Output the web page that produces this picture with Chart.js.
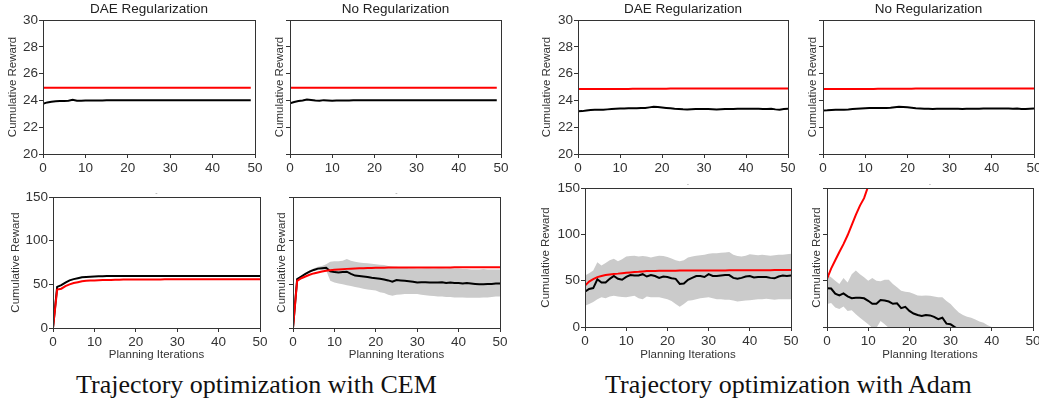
<!DOCTYPE html>
<html>
<head>
<meta charset="utf-8">
<script src="https://cdn.jsdelivr.net/npm/chart.js@4.4.0/dist/chart.umd.min.js"></script>
<style>
  html, body { margin: 0; padding: 0; background: #fff; }
  #page { position: relative; width: 1039px; height: 402px; overflow: hidden; background: #fff; }
  .panel { position: absolute; }
  .caption {
    position: absolute;
    font-family: 'Liberation Serif', 'Times New Roman', serif;
    font-size: 26px;
    line-height: 26px;
    color: #111;
    white-space: nowrap;
  }
</style>
</head>
<body>
<div id="page">
  <div class="caption" style="left:76px; top:372px;">Trajectory optimization with CEM</div>
  <div class="caption" style="left:605px; top:372px;">Trajectory optimization with Adam</div>
</div>
<script>
// CEM, top row (reward per planning iteration, 0..49)
const cemDaeTopBlack = [
  23.75, 23.85, 23.9, 23.94, 23.95, 23.95, 23.98, 24.04, 23.97, 23.98,
  23.99, 24.0, 24.0, 24.0, 24.0, 24.01, 24.01, 24.01, 24.01, 24.01,
  24.01, 24.01, 24.02, 24.02, 24.02, 24.02, 24.02, 24.02, 24.02, 24.02,
  24.02, 24.02, 24.02, 24.02, 24.02, 24.02, 24.02, 24.02, 24.02, 24.02,
  24.02, 24.02, 24.02, 24.02, 24.02, 24.02, 24.02, 24.02, 24.02, 24.02
];
const cemDaeTopRed = [
  24.95, 24.95, 24.95, 24.95, 24.95, 24.95, 24.95, 24.95, 24.95, 24.95,
  24.95, 24.95, 24.95, 24.95, 24.95, 24.95, 24.95, 24.95, 24.95, 24.95,
  24.95, 24.95, 24.95, 24.95, 24.95, 24.95, 24.95, 24.95, 24.95, 24.95,
  24.95, 24.95, 24.95, 24.95, 24.95, 24.95, 24.95, 24.95, 24.95, 24.95,
  24.95, 24.95, 24.95, 24.95, 24.95, 24.95, 24.95, 24.95, 24.95, 24.95
];
const cemNoTopBlack = [
  23.78, 23.88, 23.95, 24.0, 24.07, 24.03, 23.99, 23.98, 24.02, 24.0,
  23.97, 23.99, 24.0, 24.0, 24.0, 24.01, 24.01, 24.01, 24.01, 24.01,
  24.01, 24.01, 24.01, 24.02, 24.02, 24.02, 24.02, 24.02, 24.02, 24.02,
  24.02, 24.02, 24.02, 24.02, 24.02, 24.02, 24.02, 24.02, 24.02, 24.02,
  24.02, 24.02, 24.02, 24.02, 24.02, 24.02, 24.02, 24.02, 24.02, 24.02
];
const cemNoTopRed = [
  24.94, 24.94, 24.94, 24.94, 24.94, 24.94, 24.94, 24.94, 24.94, 24.94,
  24.94, 24.94, 24.94, 24.94, 24.94, 24.94, 24.94, 24.94, 24.94, 24.94,
  24.94, 24.94, 24.94, 24.94, 24.94, 24.94, 24.94, 24.94, 24.94, 24.94,
  24.94, 24.94, 24.94, 24.94, 24.94, 24.94, 24.94, 24.94, 24.94, 24.94,
  24.94, 24.94, 24.94, 24.94, 24.94, 24.94, 24.94, 24.94, 24.94, 24.94
];

// CEM, bottom row (0..50)
const cemDaeBotBlack = [
  0, 47, 49, 52, 54.5, 56, 57, 58, 58.5, 58.8,
  59, 59.2, 59.3, 59.4, 59.5, 59.5, 59.5, 59.5, 59.5, 59.5,
  59.5, 59.5, 59.5, 59.5, 59.5, 59.5, 59.5, 59.5, 59.5, 59.5,
  59.5, 59.5, 59.5, 59.5, 59.5, 59.5, 59.5, 59.5, 59.5, 59.5,
  59.5, 59.5, 59.5, 59.5, 59.5, 59.5, 59.5, 59.5, 59.5, 59.5, 59.5
];
const cemDaeBotRed = [
  0, 44, 45, 48, 50, 51.5, 52.5, 53.5, 54, 54.3,
  54.5, 54.7, 54.9, 55, 55.1, 55.2, 55.3, 55.4, 55.4, 55.5,
  55.5, 55.5, 55.6, 55.6, 55.6, 55.6, 55.6, 55.7, 55.7, 55.7,
  55.7, 55.7, 55.7, 55.7, 55.7, 55.8, 55.8, 55.8, 55.8, 55.8,
  55.8, 55.8, 55.8, 55.8, 55.8, 55.8, 55.8, 55.8, 55.8, 55.8, 55.8
];
const cemNoBotBlack = [
  0, 56, 59, 62, 64.5, 66.5, 68, 68.5, 69, 65,
  64, 63.5, 64, 64.5, 62, 60, 59.5, 59, 58.5, 57.5,
  57, 56.5, 55.5, 54.5, 53, 55, 54.5, 54, 53.5, 53,
  52, 52.5, 52.5, 52, 52, 52, 52.5, 51.5, 52, 51.5,
  51.5, 51, 51.5, 51, 50.5, 50, 50, 50.5, 50.5, 51, 51
];
const cemNoBotRed = [
  0, 54, 57, 59, 61, 62.5, 63.6, 64.6, 65.5, 66.2,
  66.7, 67.1, 67.4, 67.7, 67.9, 68.1, 68.3, 68.5, 68.7, 68.8,
  69, 69.1, 69.1, 69.2, 69.2, 69.2, 69.3, 69.3, 69.3, 69.3,
  69.3, 69.4, 69.4, 69.4, 69.4, 69.4, 69.4, 69.4, 69.4, 69.5,
  69.5, 69.5, 69.5, 69.5, 69.5, 69.5, 69.5, 69.5, 69.5, 69.5, 69.5
];
const cemNoBotUpper = [
  0, 57, 60, 63, 66, 68, 70, 71, 73, 76,
  76.5, 76.5, 77, 79, 77, 76, 75, 74.5, 74, 73.5,
  73, 72.5, 72, 71, 70.5, 70, 69.5, 69, 68.5, 68.5,
  68, 68, 68.5, 68.5, 68, 68.5, 68.5, 68, 68.5, 68,
  68, 67.5, 67.5, 67, 67, 67, 67.5, 67, 67, 67, 67
];
const cemNoBotLower = [
  0, 55, 58, 61, 63, 65, 66, 66.5, 66, 54,
  52, 51, 50, 49, 48, 47, 46, 45, 44, 43.5,
  43, 41, 40, 38, 37, 38, 38.5, 39, 39, 39,
  39, 38, 37.5, 37, 36.5, 36, 36, 35.5, 35.5, 35,
  35, 35, 34.5, 34.5, 34.5, 34.5, 35, 35, 35.5, 36, 36
];

// Adam, top row (0..50)
const adamDaeTopBlack = [
  23.19, 23.2, 23.25, 23.28, 23.3, 23.3, 23.3, 23.33, 23.36, 23.38,
  23.39, 23.4, 23.41, 23.42, 23.42, 23.43, 23.44, 23.48, 23.52, 23.5,
  23.47, 23.44, 23.41, 23.38, 23.36, 23.34, 23.33, 23.34, 23.35, 23.36,
  23.36, 23.35, 23.34, 23.33, 23.34, 23.35, 23.35, 23.36, 23.37, 23.37,
  23.37, 23.38, 23.38, 23.37, 23.36, 23.36, 23.37, 23.33, 23.31, 23.35, 23.37
];
const adamDaeTopRed = [
  24.85, 24.85, 24.85, 24.85, 24.85, 24.86, 24.86, 24.86, 24.86, 24.86,
  24.86, 24.86, 24.86, 24.87, 24.87, 24.87, 24.87, 24.87, 24.87, 24.87,
  24.87, 24.87, 24.88, 24.88, 24.88, 24.88, 24.88, 24.88, 24.88, 24.88,
  24.88, 24.88, 24.88, 24.89, 24.89, 24.89, 24.89, 24.89, 24.89, 24.89,
  24.89, 24.89, 24.89, 24.89, 24.89, 24.89, 24.89, 24.89, 24.89, 24.89, 24.89
];
const adamNoTopBlack = [
  23.25, 23.26, 23.28, 23.3, 23.31, 23.31, 23.32, 23.35, 23.38, 23.4,
  23.42, 23.43, 23.43, 23.44, 23.44, 23.44, 23.46, 23.49, 23.52, 23.51,
  23.48, 23.45, 23.42, 23.4, 23.38, 23.37, 23.36, 23.37, 23.37, 23.38,
  23.38, 23.38, 23.37, 23.36, 23.37, 23.38, 23.38, 23.38, 23.39, 23.4,
  23.4, 23.4, 23.4, 23.39, 23.39, 23.38, 23.39, 23.36, 23.35, 23.38, 23.4
];
const adamNoTopRed = adamDaeTopRed;

// Adam, bottom row
const adamDaeBotBlack = [
  38, 41, 42, 51.5, 48, 48, 52, 55, 52, 51,
  54, 56, 55.5, 55.5, 57, 54.5, 56, 55, 53, 54.5,
  54, 52.7, 52, 46.5, 47, 51, 53, 55, 55, 54,
  57, 55, 55, 55.5, 56, 56, 53, 52, 53, 54.5,
  55, 53.5, 54, 54, 54, 53, 52.5, 54.5, 55.6, 55, 55.5
];
const adamDaeBotRed = [
  44.7, 49, 51.6, 53.8, 55, 56, 56.7, 57.2, 57.6, 58.1,
  58.5, 58.9, 59.3, 59.6, 60, 60.3, 60.4, 60.5, 60.6, 60.7,
  60.7, 60.8, 60.8, 60.9, 60.9, 61, 61, 61, 61, 61,
  61, 61.1, 61.1, 61.1, 61.1, 61.2, 61.2, 61.2, 61.2, 61.2,
  61.3, 61.3, 61.3, 61.3, 61.3, 61.3, 61.4, 61.4, 61.4, 61.4, 61.4
];
const adamDaeBotUpper = [
  55.6, 58, 61, 70, 66.5, 69, 72, 73.7, 71, 73,
  76, 76.5, 77, 76, 76.5, 76, 75, 76, 77, 76.5,
  75.5, 74, 72, 71, 72, 75, 76, 77, 77.4, 78,
  79, 79.5, 79.5, 80, 80.5, 81, 78, 76.5, 76, 77,
  78.5, 78, 77.5, 78, 77.5, 77, 77.5, 78, 78, 78.5, 79
];
const adamDaeBotLower = [
  23, 24.7, 27, 30, 32, 31, 33, 33.8, 33, 32.5,
  32, 33, 33.8, 31, 30, 33, 32, 32, 32, 31,
  30, 28, 24.7, 21.8, 24.7, 28.3, 29, 30, 30.9, 31.5,
  32, 31, 30, 30, 29.5, 29.4, 28.5, 27.6, 28, 28.5,
  29, 29.5, 30, 30, 30.5, 30, 29.5, 30, 30, 30, 30
];
const adamNoBotBlack = [
  41.8, 41.5, 36, 34, 36.3, 33, 31, 31.5, 31.5, 31,
  28.3, 25, 25, 29, 28.5, 27.5, 25, 25.5, 20.3, 21.8,
  17.4, 14.5, 13, 12, 13, 12.5, 10.9, 8.4, 10, 3.6,
  2.9, 0, -3, -6
];
const adamNoBotRed = [52, 63, 72, 81, 89.4, 99, 110, 121, 131, 139, 152, 162, 172, 182];
const adamNoBotUpper = [
  57, 53.8, 50, 46.5, 53, 48, 57, 61, 57, 53.8,
  50, 53, 50, 49.5, 51, 51, 46.5, 43, 39, 38,
  37.4, 36, 34, 33.8, 34, 33.8, 33, 32, 32, 28,
  24.7, 20, 15.6, 13, 11, 10, 8, 6, 4.7, 2, 0
];
const adamNoBotLower = [
  24.7, 26, 21, 19.5, 22, 17.4, 18, 13.8, 10, 6.5,
  3, -1, -1, 6.5, 3, -1, -5, -8, -10, -10,
  -10, -10, -10, -10, -10, -10, -10, -10, -10, -10,
  -10, -10, -10, -10, -10, -10, -10, -10, -10, -10, -10
];

const xTicks = [0, 10, 20, 30, 40, 50];
const topYTicks = [20, 22, 24, 26, 28, 30];
const botYTicks = [0, 50, 100, 150];

const FONT = "'Liberation Sans', Arial, sans-serif";
const INK = '#333';

// plot areas (pixel boxes) and axis gutter widths for each panel
const panels = [
  { box: [43, 20, 255, 154], yw: 37, title: 'DAE Regularization', labels: true, top: true,
    black: cemDaeTopBlack, red: cemDaeTopRed },
  { box: [290, 20, 501, 154], yw: 17, title: 'No Regularization', labels: false, top: true,
    black: cemNoTopBlack, red: cemNoTopRed },
  { box: [53, 197, 260, 328], yw: 44, xh: 34, labels: true, top: false,
    black: cemDaeBotBlack, red: cemDaeBotRed },
  { box: [293, 197, 500, 328], yw: 18, xh: 34, labels: false, top: false,
    black: cemNoBotBlack, red: cemNoBotRed, upper: cemNoBotUpper, lower: cemNoBotLower },
  { box: [578, 20, 788, 154], yw: 38, title: 'DAE Regularization', labels: true, top: true,
    black: adamDaeTopBlack, red: adamDaeTopRed },
  { box: [823, 20, 1034, 154], yw: 17, title: 'No Regularization', labels: false, top: true,
    black: adamNoTopBlack, red: adamNoTopRed },
  { box: [585, 188, 791, 327], yw: 46, xh: 35, labels: true, top: false,
    black: adamDaeBotBlack, red: adamDaeBotRed, upper: adamDaeBotUpper, lower: adamDaeBotLower },
  { box: [827, 188, 1033, 327], yw: 17, xh: 35, labels: false, top: false,
    black: adamNoBotBlack, red: adamNoBotRed, upper: adamNoBotUpper, lower: adamNoBotLower }
];

function toXY(values) {
  return values.map((y, i) => ({ x: i, y: y }));
}

// full box around the plot area, like matplotlib spines
const framePlugin = {
  id: 'frame',
  afterDatasetsDraw(chart) {
    const { ctx, chartArea: a } = chart;
    const l = Math.round(a.left - 0.5) + 0.5;
    const t = Math.round(a.top - 0.5) + 0.5;
    const r = Math.round(a.right - 0.5) + 0.5;
    const b = Math.round(a.bottom - 0.5) + 0.5;
    ctx.save();
    ctx.strokeStyle = INK;
    ctx.lineWidth = 1;
    ctx.strokeRect(l, t, r - l, b - t);
    ctx.restore();
  }
};

function makePanel(p) {
  const [l, t, r, b] = p.box;
  const rightPad = 10;
  const headH = p.top ? 20 : 10;
  const xh = p.top ? 22 : p.xh;
  const w = p.yw + (r - l) + rightPad;
  const h = headH + (b - t) + xh;

  const wrap = document.createElement('div');
  wrap.className = 'panel';
  wrap.style.left = (l - p.yw) + 'px';
  wrap.style.top = (t - headH) + 'px';
  const canvas = document.createElement('canvas');
  canvas.width = w;
  canvas.height = h;
  canvas.style.width = w + 'px';
  canvas.style.height = h + 'px';
  wrap.appendChild(canvas);
  document.getElementById('page').appendChild(wrap);

  const datasets = [
    { data: toXY(p.red), borderColor: '#ff0000', borderWidth: 2, pointRadius: 0, fill: false, tension: 0 },
    { data: toXY(p.black), borderColor: '#000000', borderWidth: 2, pointRadius: 0, fill: false, tension: 0 }
  ];
  if (p.upper) {
    datasets.push({ data: toXY(p.upper), borderWidth: 0, pointRadius: 0, backgroundColor: '#cbcbcb', fill: '+1' });
    datasets.push({ data: toXY(p.lower), borderWidth: 0, pointRadius: 0, fill: false });
  }

  const yTicks = p.top ? topYTicks : botYTicks;

  new Chart(canvas, {
    type: 'line',
    data: { datasets: datasets },
    options: {
      responsive: false,
      animation: false,
      devicePixelRatio: 1,
      layout: { padding: { left: 0, right: rightPad, top: p.top ? 0 : 3, bottom: 0 } },
      plugins: {
        legend: { display: false },
        tooltip: { enabled: false },
        title: p.top ? {
          display: true,
          text: p.title,
          fullSize: false,
          color: '#222',
          font: { family: FONT, size: 13.5, weight: 'normal', lineHeight: 1.2 },
          padding: { top: 1, bottom: 2.8 }
        } : {
          display: true,
          text: '-',
          fullSize: false,
          color: '#999',
          font: { family: FONT, size: 7, weight: 'normal', lineHeight: 1 },
          padding: { top: 0, bottom: 0 }
        }
      },
      scales: {
        x: {
          type: 'linear',
          min: xTicks[0],
          max: xTicks[xTicks.length - 1],
          afterBuildTicks: s => { s.ticks = xTicks.map(v => ({ value: v })); },
          afterFit: s => { s.height = xh; },
          ticks: { color: INK, font: { family: FONT, size: 13.5 }, padding: 2, maxRotation: 0, autoSkip: false },
          grid: { drawOnChartArea: false, drawTicks: true, tickLength: 4, tickColor: INK, color: INK },
          border: { display: false },
          title: {
            display: !p.top,
            text: 'Planning Iterations',
            color: INK,
            font: { family: FONT, size: 11.5 },
            padding: 0
          }
        },
        y: {
          min: yTicks[0],
          max: yTicks[yTicks.length - 1],
          afterBuildTicks: s => { s.ticks = yTicks.map(v => ({ value: v })); },
          afterFit: s => { s.width = p.yw; },
          ticks: {
            color: INK,
            font: { family: FONT, size: 13.5 },
            padding: 1,
            autoSkip: false,
            callback: v => (p.labels ? v : '')
          },
          grid: { drawOnChartArea: false, drawTicks: true, tickLength: 4, tickColor: INK, color: INK },
          border: { display: false },
          title: {
            display: true,
            text: 'Cumulative Reward',
            color: INK,
            font: { family: FONT, size: 11.5 },
            padding: 0
          }
        }
      }
    },
    plugins: [framePlugin]
  });
}

panels.forEach(makePanel);
</script>
</body>
</html>
